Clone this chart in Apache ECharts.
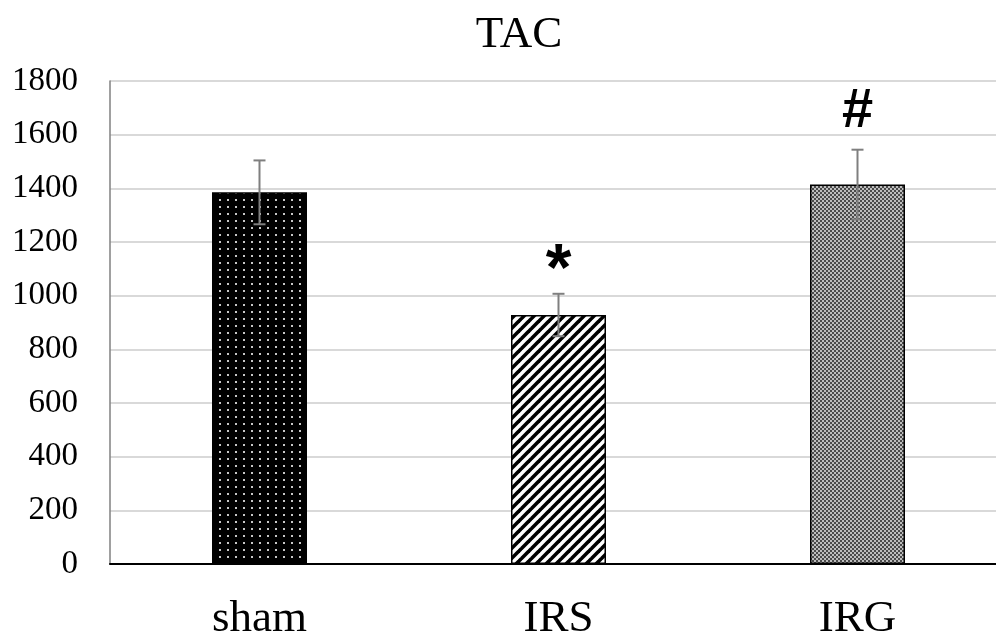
<!DOCTYPE html>
<html>
<head>
<meta charset="utf-8">
<script src="https://cdn.jsdelivr.net/npm/echarts@6/dist/echarts.min.js"></script>
<style>html,body{margin:0;padding:0;background:#fff;overflow:hidden;width:996px;height:639px;}#c{width:1007px;height:639px;}</style>
</head>
<body>
<div id="c"></div>
<script>
const categories = ['sham', 'IRS', 'IRG'];
const means = [1385, 928, 1414];
const errors = [119, 79, 130];
const marks = ['', '*', '#'];
const yTicks = { min: 0, max: 1800, interval: 200 };

function makePattern(w, h, draw) {
  const c = document.createElement('canvas');
  c.width = w; c.height = h;
  const ctx = c.getContext('2d');
  draw(ctx, w, h);
  return { image: c, repeat: 'repeat' };
}
const dotPattern = makePattern(8, 7, (ctx, w, h) => {
  ctx.fillStyle = '#000'; ctx.fillRect(0, 0, w, h);
  ctx.fillStyle = '#c8c8c8'; ctx.fillRect(3, 3, 2, 2);
});
const stripePattern = makePattern(10, 10, (ctx, w, h) => {
  ctx.fillStyle = '#fff'; ctx.fillRect(0, 0, w, h);
  ctx.strokeStyle = '#000'; ctx.lineWidth = 3.6;
  for (let k = -1; k <= 1; k++) {
    ctx.beginPath();
    ctx.moveTo(k * w - 1, h + 1);
    ctx.lineTo(k * w + w + 1, -1);
    ctx.stroke();
  }
});
const checkPattern = makePattern(4, 4, (ctx, w, h) => {
  ctx.fillStyle = '#bdbdbd'; ctx.fillRect(0, 0, w, h);
  ctx.fillStyle = '#4a4a4a'; ctx.fillRect(0, 0, 2, 2); ctx.fillRect(2, 2, 2, 2);
});
const patterns = [dotPattern, stripePattern, checkPattern];

const chart = echarts.init(document.getElementById('c'), null, { renderer: 'canvas' });
chart.setOption({
  animation: false,
  backgroundColor: '#fff',
  title: {
    text: 'TAC', left: 514, top: 8, textAlign: 'center',
    textStyle: { fontFamily: 'Liberation Serif', fontSize: 45, fontWeight: 'normal', color: '#000' }
  },
  grid: { left: 110, top: 81, right: 0, height: 483, containLabel: false, outerBoundsMode: 'none' },
  xAxis: {
    type: 'category', data: categories,
    axisLine: { lineStyle: { color: '#000', width: 2 } },
    axisTick: { show: false },
    axisLabel: { margin: 33, fontFamily: 'Liberation Serif', fontSize: 45, color: '#000' }
  },
  yAxis: {
    type: 'value', min: yTicks.min, max: yTicks.max, interval: yTicks.interval,
    axisLine: { show: true, lineStyle: { color: '#808080', width: 1.5 } },
    axisTick: { show: false },
    splitLine: { lineStyle: { color: '#d9d9d9', width: 2 } },
    axisLabel: { margin: 32, fontFamily: 'Liberation Serif', fontSize: 33, color: '#000',
      formatter: v => String(v) }
  },
  series: [
    {
      type: 'bar', barWidth: 95,
      data: means.map((v, i) => ({ value: v, itemStyle: { color: patterns[i] } })),
      itemStyle: { borderColor: '#000', borderWidth: 1.5 }
    },
    {
      type: 'custom', z: 10,
      data: means.map((v, i) => [i, v, errors[i]]),
      renderItem: function (params, api) {
        const x = api.value(0), m = api.value(1), e = api.value(2);
        const mark = marks[params.dataIndex];
        const top = api.coord([x, m + e]);
        const bot = api.coord([x, m - e]);
        const cw = 6;
        const st = { stroke: '#7f7f7f', lineWidth: 2 };
        const children = [
          { type: 'line', shape: { x1: top[0], y1: top[1], x2: bot[0], y2: bot[1] }, style: st },
          { type: 'line', shape: { x1: top[0] - cw, y1: top[1], x2: top[0] + cw, y2: top[1] }, style: st },
          { type: 'line', shape: { x1: bot[0] - cw, y1: bot[1], x2: bot[0] + cw, y2: bot[1] }, style: st }
        ];
        if (mark) {
          const isStar = mark === '*';
          children.push({
            type: 'text',
            style: {
              text: mark, x: top[0], y: top[1] - (isStar ? 22 : 38),
              align: 'center', verticalAlign: 'middle',
              font: (isStar ? 'bold 66px' : 'bold 56px') + ' "Liberation Sans"', fill: '#000'
            }
          });
        }
        return { type: 'group', children: children };
      }
    }
  ]
});
</script>
</body>
</html>
